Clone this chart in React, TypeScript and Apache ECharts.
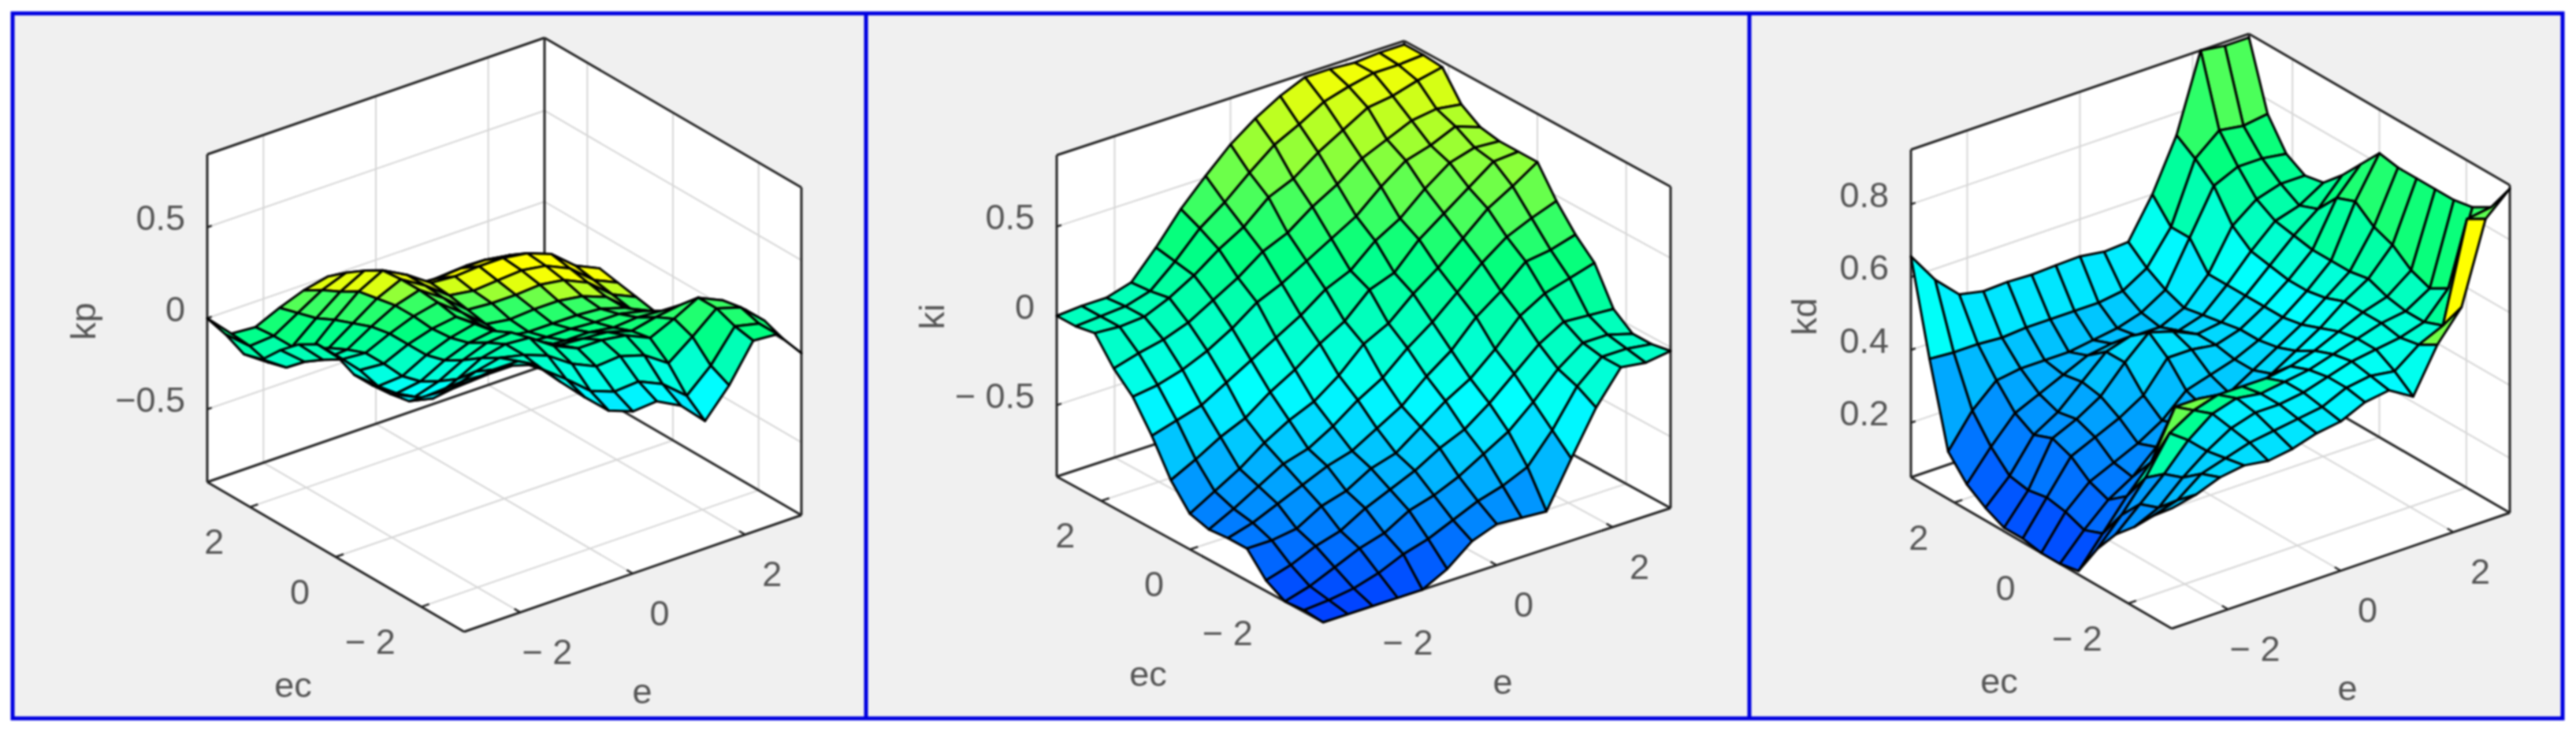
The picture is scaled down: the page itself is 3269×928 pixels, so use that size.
import React, { useEffect, useRef } from "react";
import * as echarts from "echarts";

// Fuzzy control surfaces: rows are e (-3..3, 15 samples), columns are ec (-3..3, 15 samples).
const kpRows = [
  [0.48, 0.38, 0.28, 0.19, 0.17, 0.16, 0.16, 0.21, 0.21, 0.15, 0.06, -0.05, -0.08, -0.03, 0.0],
  [0.47, 0.37, 0.27, 0.16, 0.11, 0.07, 0.05, 0.08, 0.08, 0.02, -0.05, -0.14, -0.17, -0.14, -0.13],
  [0.47, 0.39, 0.32, 0.22, 0.15, 0.09, 0.06, 0.07, 0.07, 0.03, -0.02, -0.09, -0.13, -0.13, -0.14],
  [0.43, 0.39, 0.35, 0.29, 0.22, 0.16, 0.13, 0.13, 0.13, 0.11, 0.07, 0.03, -0.02, -0.05, -0.08],
  [0.29, 0.3, 0.32, 0.32, 0.27, 0.21, 0.18, 0.17, 0.18, 0.18, 0.16, 0.14, 0.08, 0.03, -0.03],
  [0.16, 0.2, 0.27, 0.31, 0.28, 0.23, 0.21, 0.19, 0.21, 0.22, 0.22, 0.21, 0.15, 0.08, 0.0],
  [0.04, 0.09, 0.18, 0.22, 0.19, 0.14, 0.11, 0.1, 0.11, 0.13, 0.14, 0.14, 0.07, -0.01, -0.09],
  [-0.01, 0.04, 0.12, 0.16, 0.12, 0.05, 0.01, -0.01, 0.0, 0.02, 0.04, 0.05, -0.02, -0.11, -0.2],
  [0.0, 0.05, 0.13, 0.16, 0.11, 0.04, 0.0, -0.03, -0.02, 0.01, 0.02, 0.04, -0.03, -0.13, -0.22],
  [-0.07, -0.01, 0.09, 0.14, 0.1, 0.04, 0.0, -0.03, -0.01, 0.01, 0.03, 0.05, -0.02, -0.12, -0.22],
  [-0.2, -0.12, 0.0, 0.08, 0.06, 0.02, -0.01, -0.03, -0.01, 0.02, 0.04, 0.05, -0.02, -0.11, -0.21],
  [-0.05, 0.0, 0.1, 0.14, 0.09, 0.03, -0.01, -0.04, -0.03, 0.0, 0.02, 0.03, -0.04, -0.13, -0.23],
  [0.15, 0.17, 0.21, 0.21, 0.11, 0.02, -0.04, -0.08, -0.08, -0.06, -0.04, -0.02, -0.1, -0.19, -0.29],
  [0.14, 0.14, 0.17, 0.15, 0.03, -0.07, -0.14, -0.19, -0.19, -0.17, -0.15, -0.13, -0.21, -0.3, -0.4],
  [-0.01, 0.01, 0.05, 0.05, -0.05, -0.15, -0.21, -0.25, -0.25, -0.23, -0.21, -0.19, -0.26, -0.36, -0.46],
];

const kiRows = [
  [-0.9, -0.89, -0.9, -0.84, -0.72, -0.72, -0.73, -0.7, -0.57, -0.38, -0.22, -0.12, 0.02, 0.0, 0.0],
  [-0.9, -0.88, -0.86, -0.8, -0.72, -0.68, -0.66, -0.62, -0.5, -0.34, -0.2, -0.08, 0.01, 0.01, 0.01],
  [-0.9, -0.86, -0.8, -0.74, -0.7, -0.62, -0.58, -0.54, -0.42, -0.3, -0.16, -0.05, 0.02, 0.02, 0.01],
  [-0.9, -0.82, -0.74, -0.7, -0.62, -0.56, -0.5, -0.44, -0.36, -0.22, -0.1, 0.0, 0.08, 0.06, 0.05],
  [-0.9, -0.76, -0.7, -0.62, -0.58, -0.5, -0.46, -0.36, -0.26, -0.14, -0.02, 0.08, 0.16, 0.18, 0.2],
  [-0.83, -0.72, -0.62, -0.56, -0.5, -0.46, -0.38, -0.3, -0.18, -0.06, 0.08, 0.16, 0.26, 0.32, 0.37],
  [-0.72, -0.66, -0.58, -0.5, -0.46, -0.38, -0.28, -0.2, -0.08, 0.02, 0.14, 0.26, 0.34, 0.42, 0.51],
  [-0.67, -0.6, -0.52, -0.42, -0.36, -0.3, -0.2, -0.07, 0.0, 0.12, 0.22, 0.32, 0.46, 0.54, 0.64],
  [-0.68, -0.56, -0.44, -0.36, -0.26, -0.18, -0.08, 0.0, 0.13, 0.18, 0.3, 0.42, 0.52, 0.65, 0.74],
  [-0.69, -0.5, -0.36, -0.26, -0.18, -0.08, 0.02, 0.12, 0.18, 0.3, 0.38, 0.5, 0.62, 0.72, 0.82],
  [-0.44, -0.34, -0.24, -0.14, -0.06, 0.06, 0.14, 0.22, 0.32, 0.38, 0.5, 0.6, 0.7, 0.8, 0.88],
  [-0.2, -0.14, -0.1, -0.02, 0.08, 0.16, 0.26, 0.34, 0.42, 0.5, 0.6, 0.66, 0.78, 0.84, 0.88],
  [-0.02, -0.02, 0.0, 0.06, 0.16, 0.28, 0.36, 0.46, 0.52, 0.6, 0.64, 0.72, 0.8, 0.87, 0.87],
  [-0.04, -0.02, 0.0, 0.05, 0.2, 0.3, 0.42, 0.54, 0.62, 0.64, 0.7, 0.74, 0.84, 0.87, 0.88],
  [-0.02, -0.04, -0.04, 0.04, 0.24, 0.34, 0.47, 0.63, 0.63, 0.63, 0.65, 0.72, 0.87, 0.88, 0.88],
];

const kdRows = [
  [0.38, 0.33, 0.27, 0.22, 0.15, 0.06, 0.05, 0.05, 0.06, 0.06, 0.085, 0.12, 0.18, 0.405, 0.657],
  [0.395, 0.35, 0.3, 0.28, 0.22, 0.14, 0.12, 0.14, 0.15, 0.14, 0.15, 0.2, 0.27, 0.4, 0.57],
  [0.42, 0.4, 0.36, 0.34, 0.3, 0.22, 0.18, 0.2, 0.24, 0.26, 0.24, 0.27, 0.33, 0.4, 0.507],
  [0.43, 0.42, 0.41, 0.41, 0.4, 0.29, 0.22, 0.23, 0.27, 0.29, 0.28, 0.3, 0.34, 0.395, 0.493],
  [0.42, 0.44, 0.45, 0.46, 0.44, 0.42, 0.28, 0.26, 0.3, 0.33, 0.34, 0.33, 0.34, 0.4, 0.496],
  [0.43, 0.45, 0.47, 0.48, 0.46, 0.42, 0.32, 0.3, 0.34, 0.4, 0.4, 0.36, 0.34, 0.4, 0.493],
  [0.45, 0.46, 0.47, 0.47, 0.46, 0.41, 0.34, 0.36, 0.42, 0.46, 0.42, 0.37, 0.35, 0.4, 0.496],
  [0.46, 0.47, 0.48, 0.48, 0.46, 0.38, 0.36, 0.38, 0.42, 0.44, 0.4, 0.37, 0.36, 0.4, 0.498],
  [0.49, 0.5, 0.5, 0.49, 0.47, 0.42, 0.4, 0.4, 0.41, 0.41, 0.39, 0.37, 0.38, 0.41, 0.488],
  [0.5, 0.51, 0.52, 0.51, 0.49, 0.46, 0.44, 0.43, 0.43, 0.42, 0.41, 0.4, 0.42, 0.45, 0.492],
  [0.46, 0.5, 0.53, 0.53, 0.52, 0.5, 0.48, 0.47, 0.47, 0.47, 0.47, 0.47, 0.54, 0.54, 0.6],
  [0.58, 0.55, 0.54, 0.55, 0.55, 0.55, 0.53, 0.52, 0.52, 0.53, 0.54, 0.58, 0.66, 0.705, 0.74],
  [0.66, 0.58, 0.56, 0.56, 0.57, 0.59, 0.58, 0.58, 0.58, 0.59, 0.6, 0.63, 0.69, 0.76, 0.95],
  [0.88, 0.85, 0.63, 0.6, 0.62, 0.66, 0.68, 0.72, 0.7, 0.64, 0.62, 0.65, 0.69, 0.75, 0.94],
  [0.94, 0.86, 0.83, 0.82, 0.82, 0.82, 0.82, 0.83, 0.77, 0.71, 0.66, 0.65, 0.68, 0.76, 0.94],
];

// Cells of kd whose facet colour departs from the height-to-colour rule: [e index, ec index, colour position].
const kdToneCells = [
  [12, 0, 1], [11, 0, 0.8], [3, 4, 0.78], [4, 4, 0.8], [5, 4, 0.78], [6, 4, 0.7], [7, 4, 0.58],
  [2, 3, 0.55], [3, 3, 0.6], [4, 3, 0.6], [5, 3, 0.6], [6, 3, 0.58], [2, 4, 0.5],
];

const eTicks = [-2, 0, 2];
const ecTicks = [-2, 0, 2];
const planTickLabels = ["\u2212 2", "0", "2"];
const kpTicks = [-0.5, 0, 0.5];
const kpTickLabels = ["\u22120.5", "0", "0.5"];
const kiTicks = [-0.5, 0, 0.5];
const kiTickLabels = ["\u2212 0.5", "0", "0.5"];
const kdTicks = [0.2, 0.4, 0.6, 0.8];
const kdTickLabels = ["0.2", "0.4", "0.6", "0.8"];

// Colour ramp: position along it -> rgb.
const ramp: [number, number[]][] = [
  [0, [0, 64, 255]],
  [0.36, [0, 255, 255]],
  [0.64, [0, 255, 128]],
  [1, [255, 255, 0]],
];

function lerpStops(stops: number[][], v: number) {
  if (v <= stops[0][0]) return stops[0][1];
  for (let k = 1; k < stops.length; k++) {
    if (v <= stops[k][0]) {
      const a = stops[k - 1];
      const b = stops[k];
      return a[1] + ((b[1] - a[1]) * (v - a[0])) / (b[0] - a[0]);
    }
  }
  return stops[stops.length - 1][1];
}

function rampColor(t: number) {
  const c = Math.max(0, Math.min(1, t));
  for (let k = 1; k < ramp.length; k++) {
    if (c <= ramp[k][0]) {
      const [p0, a] = ramp[k - 1];
      const [p1, b] = ramp[k];
      const f = (c - p0) / (p1 - p0);
      return `rgb(${a.map((x, n) => Math.round(x + (b[n] - x) * f)).join(",")})`;
    }
  }
  return "rgb(255,255,0)";
}

type Panel = {
  name: string;
  rows: number[][];
  zMin: number;
  zMax: number;
  front: number[];
  E: number[];
  C: number[];
  H: number;
  zTicks: number[];
  zLabels: string[];
  toneBy: "z" | "screen";
  toneStops: number[][];
  toneCells: number[][];
  axisLabel: number[];
  ecLabel: number[];
  eLabel: number[];
};

const panels: Panel[] = [
  {
    name: "kp", rows: kpRows, zMin: -0.9, zMax: 0.9,
    front: [589, 802], E: [428, -148], C: [-326, -190], H: 416,
    zTicks: kpTicks, zLabels: kpTickLabels, toneBy: "screen",
    toneStops: [[345, 1], [362, 0.95], [385, 0.72], [420, 0.64], [467, 0.45], [503, 0.34], [533, 0.26]],
    toneCells: [], axisLabel: [105, 408], ecLabel: [372, 869], eLabel: [815, 877],
  },
  {
    name: "ki", rows: kiRows, zMin: -0.9, zMax: 0.9,
    front: [1679, 790], E: [441, -145], C: [-338, -185], H: 408,
    zTicks: kiTicks, zLabels: kiTickLabels, toneBy: "z",
    toneStops: [[-0.9, 0], [0.9, 1]],
    toneCells: [], axisLabel: [1182, 402], ecLabel: [1457, 855], eLabel: [1907, 865],
  },
  {
    name: "kd", rows: kdRows, zMin: 0.05, zMax: 0.95,
    front: [2756, 798], E: [429, -147], C: [-331, -192], H: 416,
    zTicks: kdTicks, zLabels: kdTickLabels, toneBy: "z",
    toneStops: [[0.05, 0], [0.25, 0.14], [0.5, 0.36], [0.6, 0.52], [0.7, 0.64], [0.95, 0.82]],
    toneCells: kdToneCells, axisLabel: [2289, 402], ecLabel: [2537, 864], eLabel: [2979, 873],
  },
];

function project(p: Panel, e: number, ec: number, z: number) {
  const a = (e + 3) / 6;
  const b = (ec + 3) / 6;
  const c = (z - p.zMin) / (p.zMax - p.zMin);
  return [
    p.front[0] + a * p.E[0] + b * p.C[0],
    p.front[1] + a * p.E[1] + b * p.C[1] - c * p.H,
  ];
}

const sample = (i: number) => -3 + (i * 6) / 14;
const FONT = '"Liberation Sans", Arial, sans-serif';
const TEXT = "#555555";
const FRAME = "#0000e0";

function surfaceSeries(p: Panel) {
  const cells: number[][] = [];
  for (let i = 13; i >= 0; i--) for (let j = 13; j >= 0; j--) cells.push([i, j]);
  return {
    type: "custom",
    coordinateSystem: "cartesian2d",
    silent: true,
    z: 4,
    clip: false,
    data: cells,
    renderItem: (_: any, api: any) => {
      const i = api.value(0);
      const j = api.value(1);
      const corners = [[i, j], [i + 1, j], [i + 1, j + 1], [i, j + 1]];
      const raw = corners.map(([a, b]) => project(p, sample(a), sample(b), p.rows[a][b]));
      const points = raw.map((q) => api.coord(q));
      const meanZ = corners.reduce((s, [a, b]) => s + p.rows[a][b], 0) / 4;
      const meanY = raw.reduce((s, q) => s + q[1], 0) / 4;
      const over = p.toneCells.find((c) => c[0] === i && c[1] === j);
      const t = over ? over[2] : lerpStops(p.toneStops, p.toneBy === "z" ? meanZ : meanY);
      return {
        type: "polygon",
        shape: { points },
        style: { fill: rampColor(t), stroke: "#000", lineWidth: 3, lineJoin: "round" },
      };
    },
  };
}

function boxSeries(p: Panel) {
  return {
    type: "custom",
    coordinateSystem: "cartesian2d",
    silent: true,
    z: 3,
    clip: false,
    data: [[0, 0]],
    renderItem: (_: any, api: any) => {
      const P = (e: number, ec: number, z: number) => api.coord(project(p, e, ec, z));
      const lo = p.zMin;
      const hi = p.zMax;
      const poly = (points: number[][]) => ({
        type: "polygon", shape: { points }, style: { fill: "#fff", stroke: "none" },
      });
      const line = (a: number[], b: number[], stroke: string, lineWidth: number) => ({
        type: "line",
        shape: { x1: a[0], y1: a[1], x2: b[0], y2: b[1] },
        style: { stroke, lineWidth },
      });
      const children: any[] = [
        poly([P(-3, 3, lo), P(3, 3, lo), P(3, 3, hi), P(-3, 3, hi)]),
        poly([P(3, 3, lo), P(3, -3, lo), P(3, -3, hi), P(3, 3, hi)]),
        poly([P(-3, -3, lo), P(3, -3, lo), P(3, 3, lo), P(-3, 3, lo)]),
      ];
      const GRID = "#d6d6d6";
      eTicks.forEach((t) => {
        children.push(line(P(t, 3, lo), P(t, 3, hi), GRID, 2));
        children.push(line(P(t, -3, lo), P(t, 3, lo), GRID, 2));
        children.push(line(P(t, -3, lo), P(t, -3 + 0.14, lo), "#222", 2.5));
      });
      ecTicks.forEach((t) => {
        children.push(line(P(3, t, lo), P(3, t, hi), GRID, 2));
        children.push(line(P(-3, t, lo), P(3, t, lo), GRID, 2));
        children.push(line(P(-3, t, lo), P(-3 + 0.14, t, lo), "#222", 2.5));
      });
      p.zTicks.forEach((t) => {
        children.push(line(P(-3, 3, t), P(3, 3, t), GRID, 2));
        children.push(line(P(3, 3, t), P(3, -3, t), GRID, 2));
        children.push(line(P(-3, 3, t), P(-3 + 0.08, 3, t), "#222", 2.5));
      });
      const W = "#232323";
      [
        [P(-3, 3, hi), P(3, 3, hi)],
        [P(3, 3, hi), P(3, -3, hi)],
        [P(-3, 3, lo), P(-3, 3, hi)],
        [P(3, -3, lo), P(3, -3, hi)],
        [P(3, 3, lo), P(3, 3, hi)],
        [P(-3, 3, lo), P(3, 3, lo)],
        [P(3, 3, lo), P(3, -3, lo)],
        [P(-3, 3, lo), P(-3, -3, lo)],
        [P(-3, -3, lo), P(3, -3, lo)],
      ].forEach(([a, b]) => children.push(line(a, b, W, 3)));
      return { type: "group", children };
    },
  };
}

function textEl(x: number, y: number, text: string, align = "center", rotation = 0) {
  return {
    type: "text",
    x,
    y,
    rotation,
    z: 20,
    silent: true,
    style: {
      text,
      fill: TEXT,
      font: `45px ${FONT}`,
      align,
      verticalAlign: "middle",
    },
  };
}

function labelEls(p: Panel) {
  const els: any[] = [];
  p.zTicks.forEach((t, k) => {
    const q = project(p, -3, 3, t);
    els.push(textEl(q[0] - 28, q[1] - 12, p.zLabels[k], "right"));
  });
  ecTicks.forEach((t, k) => {
    const q = project(p, -3, t, p.zMin);
    els.push(textEl(q[0] - 33, q[1] + 44, planTickLabels[k], "right"));
  });
  eTicks.forEach((t, k) => {
    const q = project(p, t, -3, p.zMin);
    els.push(textEl(q[0] + 34, q[1] + 50, planTickLabels[k], "center"));
  });
  els.push(textEl(p.axisLabel[0], p.axisLabel[1], p.name, "center", Math.PI / 2));
  els.push(textEl(p.ecLabel[0], p.ecLabel[1], "ec"));
  els.push(textEl(p.eLabel[0], p.eLabel[1], "e"));
  return els;
}

export default function App() {
  const ref = useRef<HTMLDivElement>(null);
  useEffect(() => {
    document.body.style.margin = "0";
    const chart = echarts.init(ref.current!, undefined, { renderer: "svg" });
    const frameLine = { stroke: FRAME, lineWidth: 5 };
    chart.setOption({
      animation: false,
      backgroundColor: "#ffffff",
      grid: { left: 0, top: 0, right: 0, bottom: 0 },
      xAxis: { type: "value", min: 0, max: 3269, show: false },
      yAxis: { type: "value", min: 0, max: 928, inverse: true, show: false },
      series: panels.flatMap((p) => [boxSeries(p), surfaceSeries(p)]),
      graphic: [
        { type: "rect", z: 0, silent: true, shape: { x: 16, y: 17, width: 3236, height: 895 }, style: { fill: "#f0f0f0", ...frameLine } },
        { type: "line", z: 1, silent: true, shape: { x1: 1099, y1: 17, x2: 1099, y2: 912 }, style: frameLine },
        { type: "line", z: 1, silent: true, shape: { x1: 2220, y1: 17, x2: 2220, y2: 912 }, style: frameLine },
        ...panels.flatMap(labelEls),
      ],
    });
    return () => chart.dispose();
  }, []);
  return <div ref={ref} style={{ width: 3269, height: 928, filter: "blur(0.9px)" }} />;
}
